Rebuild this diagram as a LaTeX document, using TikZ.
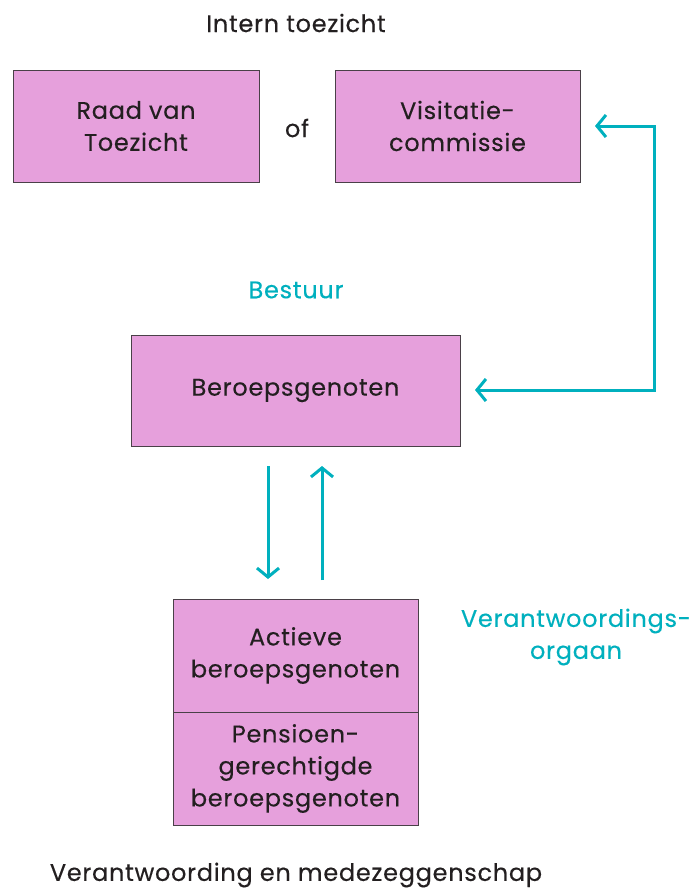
\documentclass[tikz,border=0pt]{standalone}
\usepackage{fontspec}
\setmainfont{Poppins}[LetterSpace=3,FakeBold=0.3]
\usetikzlibrary{arrows.meta,positioning}
\definecolor{boxpink}{HTML}{E6A0DC}
\definecolor{teal}{HTML}{00B0BE}
\definecolor{boxline}{HTML}{4A4048}
\definecolor{txt}{HTML}{231F20}
\begin{document}
\begin{tikzpicture}[x=1pt,y=-1pt,
  orgbox/.style={draw=boxline,line width=0.9pt,fill=boxpink,inner sep=0pt,align=center,
    font=\fontsize{24}{32}\selectfont,text=txt},
  lbl/.style={font=\fontsize{24}{32}\selectfont,text=txt,align=center,inner sep=0pt},
  tlbl/.style={font=\fontsize{24}{32}\selectfont,text=teal,align=center,inner sep=0pt},
  conn/.style={draw=teal,line width=3pt,{Straight Barb[length=9pt,width=22pt]}-{Straight Barb[length=9pt,width=22pt]}},
  oneway/.style={draw=teal,line width=3pt,-{Straight Barb[length=9pt,width=22pt]}}]
\useasboundingbox (0,0) rectangle (694,891);
\fill[white] (0,0) rectangle (694,891);
% top
\node[lbl] (intern) at (296,23) {Intern toezicht};
\node[orgbox,minimum width=246pt,minimum height=112pt] (raad) at (136,126) {Raad van\\Toezicht};
\node[lbl] (of) at (297,128) {of};
\node[orgbox,minimum width=245pt,minimum height=112pt] (visit) at (457.5,126) {Visitatie-\\commissie};
% middle
\node[tlbl] (bestuur) at (296,290) {Bestuur};
\node[orgbox,minimum width=329pt,minimum height=111pt] (ber) at (295.5,390.5) {Beroepsgenoten};
% bottom
\node[orgbox,minimum width=245pt,minimum height=113pt] (actief) at (295.5,655.5) {Actieve\\beroepsgenoten};
\node[orgbox,minimum width=245pt,minimum height=113pt] (pens) at (295.5,768.5) {Pensioen-\\gerechtigde\\beroepsgenoten};
\node[tlbl] (vorg) at (576,637) {Verantwoordings-\\orgaan};
\node[lbl] (vm) at (296,875) {Verantwoording en medezeggenschap};
% arrows
\coordinate (d1) at (268,466);
\coordinate (d2) at (268,579);
\coordinate (u1) at (322,580);
\coordinate (u2) at (322,466);
\draw[oneway] (d1) -- (d2);
\draw[oneway] (u1) -- (u2);
\coordinate (vtip) at (595,126);
\coordinate (btip) at (475,390);
\coordinate (elbowtop) at (654,126);
\coordinate (elbowbot) at (654,390);
\draw[conn,line join=miter] (vtip) -- (elbowtop) -- (elbowbot) -- (btip);
\end{tikzpicture}
\end{document}
